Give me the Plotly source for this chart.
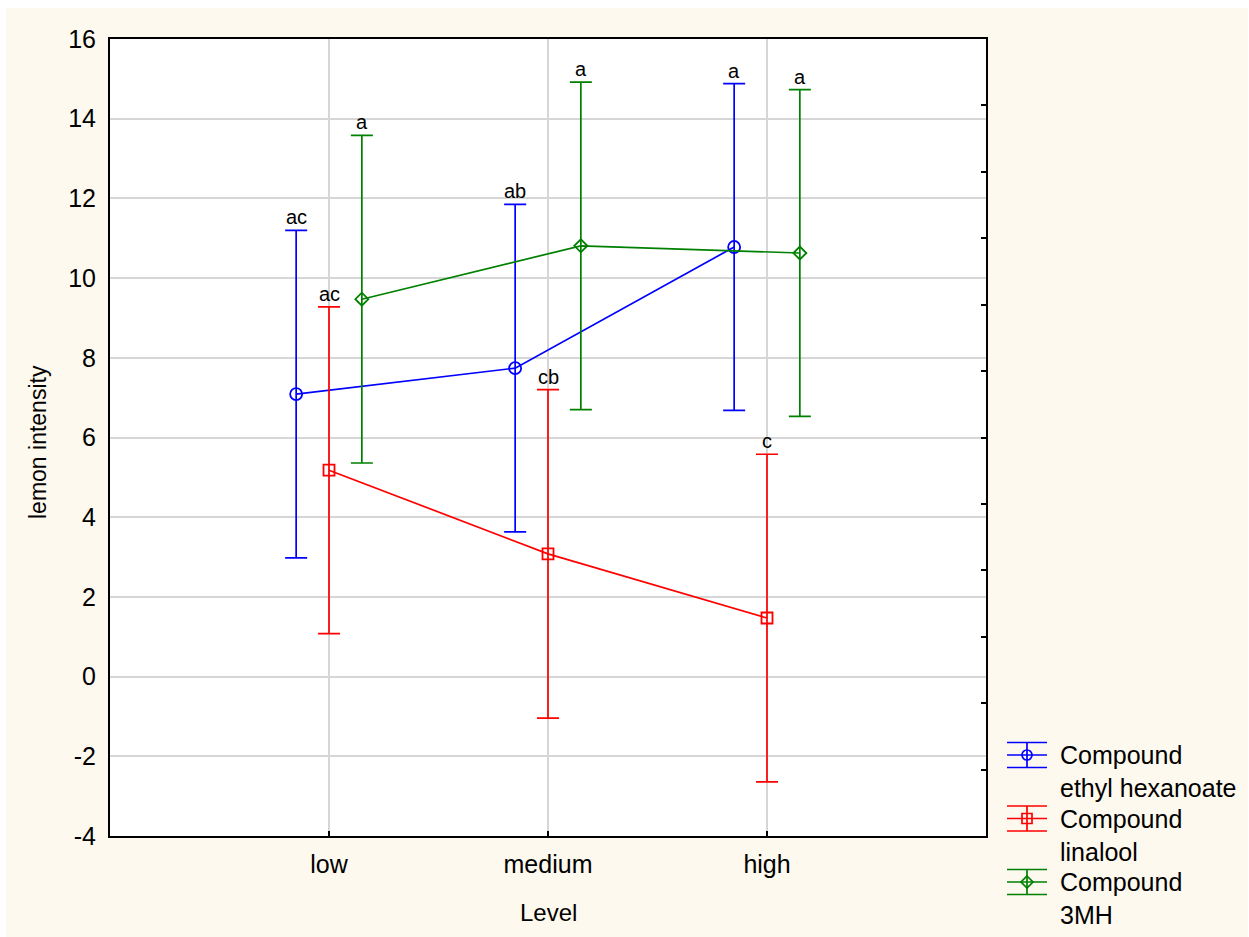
import plotly.graph_objects as go

# ---------------- data ----------------
levels = ["low", "medium", "high"]
level_pos = [1, 2, 3]

series_names = ["ethyl hexanoate", "linalool", "3MH"]
ethyl_hexanoate = [7.09, 7.74, 10.78]
linalool = [5.18, 3.08, 1.47]
mh3 = [9.47, 10.81, 10.63]
ethyl_hexanoate_ci = [4.11, 4.11, 4.10]
linalool_ci = [4.10, 4.12, 4.11]
mh3_ci = [4.11, 4.11, 4.10]
ethyl_hexanoate_letters = ["ac", "ab", "a"]
linalool_letters = ["ac", "cb", "c"]
mh3_letters = ["a", "a", "a"]

y_tick_vals = [-4, -2, 0, 2, 4, 6, 8, 10, 12, 14, 16]
y_tick_text = ["-4", "-2", "0", "2", "4", "6", "8", "10", "12", "14", "16"]

# ---------------- styling ----------------
W, H = 1249, 937
L, R, T, B = 110, 986, 39, 836   # plot area in pixels
FONT = "Liberation Sans, Arial, sans-serif"
CREAM = "#FEF9EE"

def px(x):
    return (x - L) / (R - L)

def py(y):
    return (B - y) / (B - T)

series = [
    dict(name=series_names[0], y=ethyl_hexanoate, ci=ethyl_hexanoate_ci, letters=ethyl_hexanoate_letters,
         color="#0000FF", symbol="circle-open", size=12, offset=-0.15),
    dict(name=series_names[1], y=linalool, ci=linalool_ci, letters=linalool_letters,
         color="#FF0000", symbol="square-open", size=11, offset=0.0),
    dict(name=series_names[2], y=mh3, ci=mh3_ci, letters=mh3_letters,
         color="#008000", symbol="diamond-open", size=10, offset=0.15),
]

fig = go.Figure()
annotations = []
for s in series:
    xs = [p + s["offset"] for p in level_pos]
    fig.add_trace(go.Scatter(
        x=xs, y=s["y"], mode="lines+markers", name="Compound " + s["name"],
        line=dict(color=s["color"], width=1.7),
        marker=dict(symbol=s["symbol"], size=s["size"], color=s["color"],
                    line=dict(color=s["color"], width=1.8)),
        error_y=dict(type="data", array=s["ci"], visible=True, color=s["color"],
                     thickness=1.7, width=11),
        showlegend=False, cliponaxis=False,
    ))
    for xv, yv, ev, lt in zip(xs, s["y"], s["ci"], s["letters"]):
        annotations.append(dict(x=xv, y=yv + ev, xref="x", yref="y", text=lt, showarrow=False,
                                yanchor="bottom", xanchor="center", yshift=0,
                                font=dict(family=FONT, size=20, color="black")))

# empty trace so that the right-hand (secondary) tick axis is drawn
fig.add_trace(go.Scatter(x=[], y=[], yaxis="y2", showlegend=False, hoverinfo="skip"))

# axis titles
annotations.append(dict(x=px(548), y=py(912), xref="paper", yref="paper", text="Level",
                        showarrow=False, xanchor="center", yanchor="middle",
                        font=dict(family=FONT, size=24, color="black")))
annotations.append(dict(x=px(38), y=py(442), xref="paper", yref="paper", text="lemon intensity",
                        showarrow=False, xanchor="center", yanchor="middle", textangle=-90,
                        font=dict(family=FONT, size=23, color="black")))

shapes = []
# background: cream sheet with thin white strip top/left, white plot area
shapes.append(dict(type="rect", xref="paper", yref="paper", layer="below",
                   x0=px(6), x1=px(1248), y0=py(950), y1=py(8),
                   fillcolor=CREAM, line=dict(width=0)))
shapes.append(dict(type="rect", xref="paper", yref="paper", layer="below",
                   x0=0, x1=1, y0=0, y1=1, fillcolor="white", line=dict(width=0)))

# custom legend
leg_centers = [755, 818.5, 882]
for s, yc in zip(series, leg_centers):
    c = s["color"]
    for dy in (-12.5, 0, 12.5):
        shapes.append(dict(type="line", xref="paper", yref="paper",
                           x0=px(1007), x1=px(1047), y0=py(yc + dy), y1=py(yc + dy),
                           line=dict(color=c, width=1.7)))
    shapes.append(dict(type="line", xref="paper", yref="paper",
                       x0=px(1027), x1=px(1027), y0=py(yc - 12.5), y1=py(yc + 12.5),
                       line=dict(color=c, width=1.7)))
    r = 5
    if s["symbol"].startswith("circle"):
        shapes.append(dict(type="circle", xref="paper", yref="paper",
                           x0=px(1027 - r), x1=px(1027 + r), y0=py(yc + r), y1=py(yc - r),
                           line=dict(color=c, width=1.7)))
    elif s["symbol"].startswith("square"):
        shapes.append(dict(type="rect", xref="paper", yref="paper",
                           x0=px(1027 - r), x1=px(1027 + r), y0=py(yc + r), y1=py(yc - r),
                           line=dict(color=c, width=1.7)))
    else:
        rr = 6
        path = "M {a},{b} L {c_},{d} L {a},{e} L {f},{d} Z".format(
            a=px(1027), b=py(yc - rr), c_=px(1027 + rr), d=py(yc), e=py(yc + rr), f=px(1027 - rr))
        shapes.append(dict(type="path", xref="paper", yref="paper", path=path,
                           line=dict(color=c, width=1.7)))
    annotations.append(dict(x=px(1058), y=py(yc + 16.5), xref="paper", yref="paper",
                            text="Compound<br>" + s["name"], showarrow=False,
                            xanchor="left", yanchor="middle", align="left",
                            font=dict(family=FONT, size=25, color="black")))

fig.update_layout(
    width=W, height=H,
    margin=dict(l=L, r=W - R, t=T, b=H - B, pad=0),
    paper_bgcolor="white", plot_bgcolor="rgba(0,0,0,0)",
    font=dict(family=FONT, size=24, color="black"),
    showlegend=False,
    shapes=shapes, annotations=annotations,
    xaxis=dict(range=[0, 4], tickvals=level_pos, ticktext=levels,
               showgrid=True, gridcolor="#D6D6D6", gridwidth=2,
               ticks="inside", ticklen=5, tickwidth=2, tickcolor="black",
               showline=True, linecolor="black", linewidth=2, mirror=True,
               zeroline=False, ticklabelstandoff=5,
               tickfont=dict(family=FONT, size=25, color="black")),
    yaxis=dict(range=[-4, 16], tickvals=y_tick_vals, ticktext=y_tick_text,
               showgrid=True, gridcolor="#D6D6D6", gridwidth=2,
               ticks="", showline=True, linecolor="black", linewidth=2, mirror=True,
               zeroline=False, ticklabelstandoff=7,
               tickfont=dict(family=FONT, size=25, color="black")),
    yaxis2=dict(range=[0, 12], overlaying="y", side="right", anchor="x",
                dtick=1, tick0=0, ticks="inside", ticklen=5, tickwidth=2, tickcolor="black",
                showticklabels=False, showgrid=False, zeroline=False, showline=False),
)

fig.write_html("out.html")
